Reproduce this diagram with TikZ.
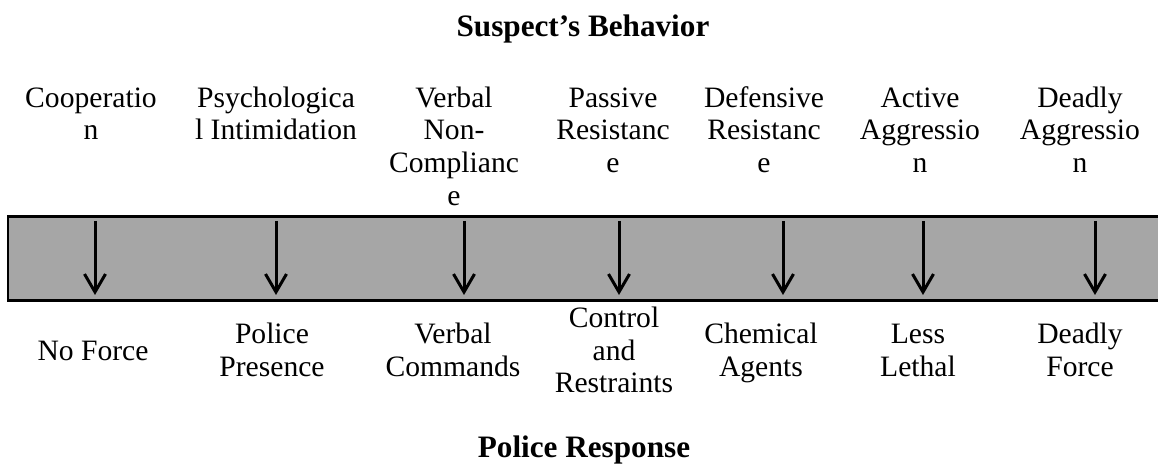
\documentclass[tikz,border=0pt]{standalone}
\usepackage{fontspec}
\setmainfont{Liberation Serif}
\usetikzlibrary{arrows.meta}

\definecolor{barfill}{HTML}{A6A6A6}
\newcommand{\firststrut}{\rule{0pt}{11pt}}

\begin{document}
\begin{tikzpicture}[
      x=0.5pt, y=-0.5pt,
      title/.style={font=\fontsize{15.6pt}{18pt}\selectfont\bfseries, anchor=base, inner sep=0pt},
      colbox/.style={
          font=\fontsize{14.8pt}{16.4pt}\selectfont,
          align=center,
          anchor=north,   % top of first line, baseline 11pt below
          inner sep=0pt
        },
      forcearrow/.style={-{Straight Barb[length=9pt,width=10.5pt]}, line width=1.5pt},
    ]
    \useasboundingbox (0,0) rectangle (1158,475);

    % gray band, open to the right edge
    \fill[barfill] (8,216) rectangle (1158,301);
    \draw[line width=1.4pt] (1158,216.5) -- (8,216.5) -- (8,300.5) -- (1158,300.5);

    \node[title] (behavior) at (583,37) {Suspect’s Behavior};
    \node[title] (response) at (584,458) {Police Response};

    % suspect's behaviour
    \node[colbox] (coop) at (91,84.7) {\firststrut Cooperatio\\n};
    \node[colbox] (psych) at (276,84.7) {\firststrut Psychologica\\l Intimidation};
    \node[colbox] (verbal) at (454,84.7) {\firststrut Verbal\\Non-\\Complianc\\e};
    \node[colbox] (passive) at (613,84.7) {\firststrut Passive\\Resistanc\\e};
    \node[colbox] (defensive) at (764,84.7) {\firststrut Defensive\\Resistanc\\e};
    \node[colbox] (active) at (920,84.7) {\firststrut Active\\Aggressio\\n};
    \node[colbox] (deadly) at (1080,84.7) {\firststrut Deadly\\Aggressio\\n};

    % police response
    \node[colbox] (noforce) at (93,337.8) {\firststrut No Force};
    \node[colbox] (presence) at (272,321.4) {\firststrut Police\\Presence};
    \node[colbox] (commands) at (453,321.4) {\firststrut Verbal\\Commands};
    \node[colbox] (control) at (614,305) {\firststrut Control\\and\\Restraints};
    \node[colbox] (chemical) at (761,321.4) {\firststrut Chemical\\Agents};
    \node[colbox] (lesslethal) at (918,321.4) {\firststrut Less\\Lethal};
    \node[colbox] (deadlyforce) at (1080,321.4) {\firststrut Deadly\\Force};

    \foreach \x [count=\i] in {95,276,464,619,783,923,1095}{
        \coordinate (from\i) at (\x,221);
        \coordinate (to\i) at (\x,295);
        \draw[forcearrow] (from\i) -- (to\i);
      }
  \end{tikzpicture}
\end{document}
